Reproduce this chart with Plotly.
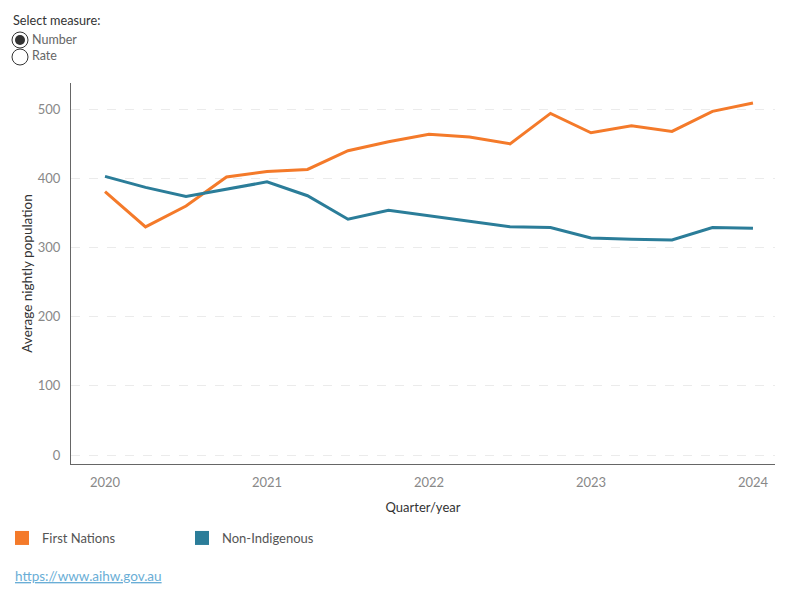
import plotly.graph_objects as go

quarters = [2020 + i * 0.25 for i in range(17)]
first_nations = [381, 330, 360, 402, 410, 413, 440, 453, 464, 460, 450, 494, 466, 476, 468, 497, 509]
non_indigenous = [403, 387, 374, 385, 395, 375, 341, 354, 346, 337, 330, 329, 314, 312, 311, 329, 328]
year_ticks = [2020, 2021, 2022, 2023, 2024]
series_names = ["First Nations", "Non-Indigenous"]
colors = ["#F47A2A", "#2B7D99"]

W, H = 800, 600
L, R, T, B = 71, 25, 83, 136
pw, ph = W - L - R, H - T - B

def px(x):
    return (x - L) / pw

def py(y):
    return (H - B - y) / ph

FONT = "Lato"

fig = go.Figure()
for name, vals, c in zip(series_names, [first_nations, non_indigenous], colors):
    fig.add_trace(go.Scatter(x=quarters, y=vals, mode="lines", name=name,
                             line=dict(color=c, width=3), showlegend=False,
                             hovertemplate="%{y}<extra>" + name + "</extra>"))
for name, c in zip(series_names, colors):
    fig.add_trace(go.Scatter(x=[None], y=[None], mode="markers", name=name,
                             marker=dict(symbol="square", size=14, color=c)))

fig.update_layout(
    width=W, height=H,
    margin=dict(l=L, r=R, t=T, b=B, autoexpand=False),
    plot_bgcolor="white", paper_bgcolor="white",
    font=dict(family=FONT, size=13, color="#555"),
    xaxis=dict(range=[2020 - 0.21, 2024 + 0.136], tickvals=year_ticks, automargin=False,
               ticktext=[str(y) for y in year_ticks], showgrid=False,
               showline=True, linecolor="#666", linewidth=1, zeroline=False,
               ticks="", tickfont=dict(color="#888", size=13), ticklabelstandoff=6,
               title=dict(text="Quarter/year", font=dict(color="#333", size=13), standoff=14)),
    yaxis=dict(range=[-13, 538], tickvals=[0, 100, 200, 300, 400, 500], automargin=False,
               showgrid=True, gridcolor="#ebebeb", griddash="dash", gridwidth=1,
               showline=True, linecolor="#666", linewidth=1, zeroline=False,
               ticks="", tickfont=dict(color="#888", size=13), ticklabelstandoff=7,
               title=dict(text="Average nightly population", font=dict(color="#333", size=13.5), standoff=2)),
    legend=dict(orientation="h", x=px(2), y=py(523), xanchor="left", yanchor="top",
                entrywidth=135, entrywidthmode="pixels",
                font=dict(color="#555", size=13), itemclick=False),
    showlegend=True,
)

fig.add_annotation(text="Select measure:", xref="paper", yref="paper", x=px(11), y=py(20),
                   xanchor="left", yanchor="middle", showarrow=False,
                   font=dict(color="#333", size=12.7, family=FONT))
fig.add_annotation(text="Number", xref="paper", yref="paper", x=px(30), y=py(39),
                   xanchor="left", yanchor="middle", showarrow=False,
                   font=dict(color="#666", size=12.5, family=FONT))
fig.add_annotation(text="Rate", xref="paper", yref="paper", x=px(30), y=py(56),
                   xanchor="left", yanchor="middle", showarrow=False,
                   font=dict(color="#666", size=12.5, family=FONT))
for cy, filled in [(40, True), (57, False)]:
    fig.add_shape(type="circle", xref="paper", yref="paper", xsizemode="pixel", ysizemode="pixel",
                  xanchor=px(20), yanchor=py(cy), x0=-8, x1=8, y0=-8, y1=8,
                  line=dict(color="#333", width=1), fillcolor="white")
    if filled:
        fig.add_shape(type="circle", xref="paper", yref="paper", xsizemode="pixel", ysizemode="pixel",
                      xanchor=px(20), yanchor=py(cy), x0=-5, x1=5, y0=-5, y1=5,
                      line=dict(color="#333", width=0), fillcolor="#333")
fig.add_annotation(text="<a href='https://www.aihw.gov.au' style='color:#6aaed6'><u>https://www.aihw.gov.au</u></a>",
                   xref="paper", yref="paper", x=px(13), y=py(576),
                   xanchor="left", yanchor="middle", showarrow=False,
                   font=dict(color="#6aaed6", size=13.5, family=FONT))

fig.write_html("out.html")
